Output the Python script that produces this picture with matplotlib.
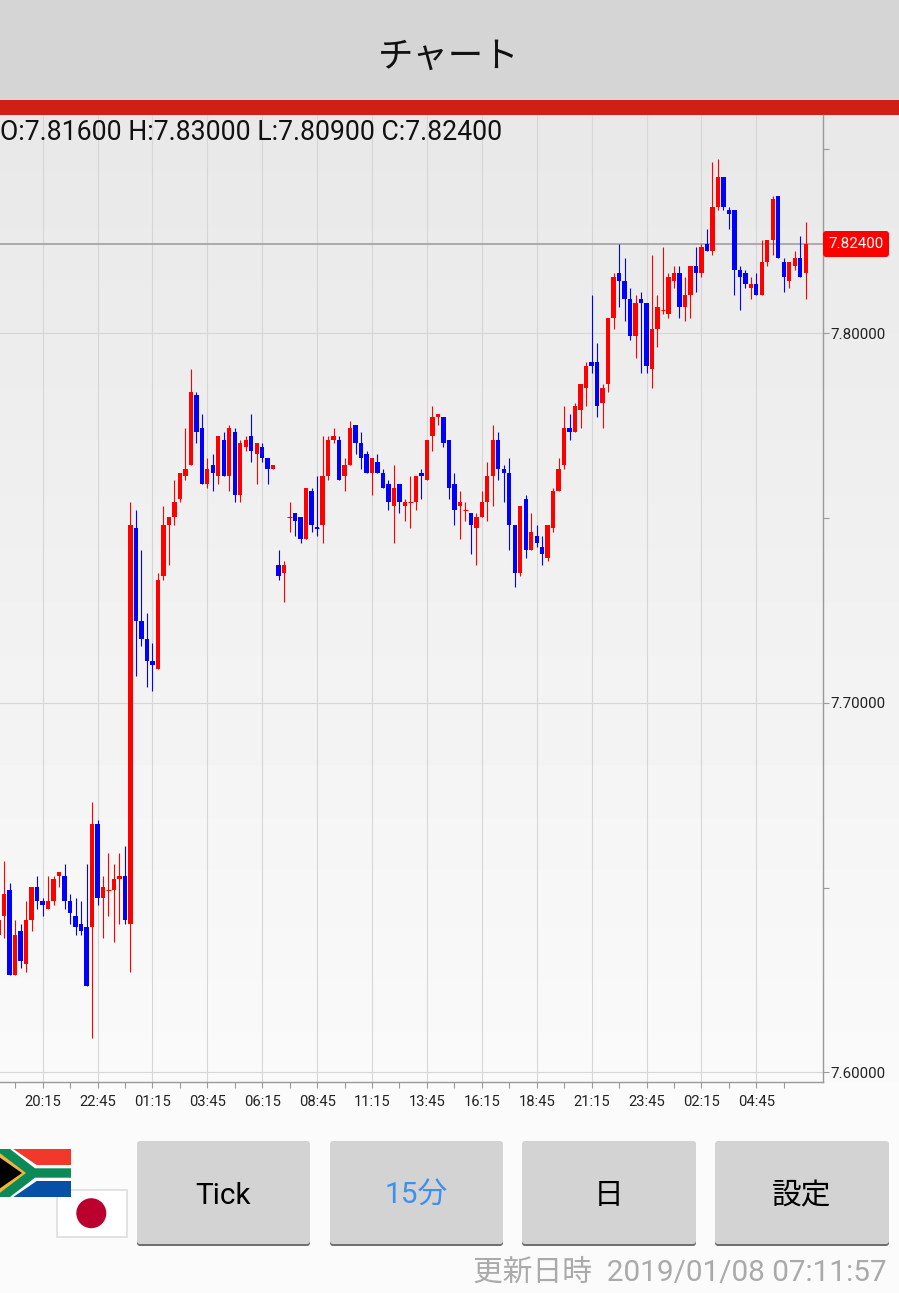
import numpy as np
import matplotlib
matplotlib.use('Agg')
import matplotlib.pyplot as plt
from matplotlib.patches import FancyBboxPatch, Rectangle, Polygon, Circle

W, H = 899, 1293
FONT = ['Roboto', 'Noto Sans CJK JP', 'DejaVu Sans']
plt.rcParams['font.family'] = FONT

# candles, price in 1/1000 units, one row = 10 candles (15 minutes each)
first_index = -8
opens = [7637, 7642, 7649, 7626, 7638, 7629, 7641, 7650, 7646, 7644,
         7646, 7653, 7653, 7646, 7642, 7640, 7639, 7639, 7667, 7647,
         7649, 7649, 7652, 7653, 7640, 7747, 7722, 7717, 7711, 7709,
         7734, 7748, 7750, 7755, 7761, 7764, 7783, 7774, 7759, 7764,
         7761, 7771, 7761, 7773, 7756, 7769, 7772, 7767, 7769, 7766,
         7763, 7737, 7735, 7750, 7751, 7750, 7744, 7757, 7747.2, 7748,
         7761, 7771, 7771, 7761, 7764, 7775, 7770, 7767, 7762, 7765,
         7762, 7759, 7753, 7759, 7753, 7754, 7754, 7762, 7760, 7772,
         7777, 7777, 7771, 7759, 7753, 7752, 7751, 7747, 7750, 7754,
         7761, 7771, 7763, 7762, 7748, 7735, 7755, 7741, 7745, 7742,
         7739, 7747, 7757, 7764, 7774, 7773, 7779, 7785, 7792, 7792,
         7781, 7786, 7804, 7816, 7814, 7809, 7799, 7809, 7808, 7790,
         7801, 7806, 7805, 7814, 7816, 7807, 7810, 7818, 7816, 7824,
         7822, 7834, 7842, 7833, 7833, 7817, 7816, 7812, 7813, 7810,
         7819, 7825, 7837, 7819, 7814, 7818, 7820, 7816]
highs = [7641, 7657, 7651, 7641, 7640, 7646, 7650, 7653, 7647, 7653,
         7653, 7654, 7656, 7648, 7647, 7646, 7656, 7673, 7668, 7653,
         7659, 7656, 7659, 7661, 7754, 7752, 7741, 7724, 7716, 7735,
         7753, 7750, 7760, 7762, 7774, 7790, 7784, 7778, 7766, 7767,
         7772, 7773, 7775, 7774, 7771, 7772, 7778, 7770, 7770, 7766,
         7764, 7741, 7738, 7754, 7751, 7750, 7758, 7758, 7761, 7772,
         7772, 7774, 7772, 7766, 7776, 7775, 7773, 7768, 7766, 7767,
         7763, 7760, 7764, 7759, 7755, 7761, 7761, 7763, 7771, 7780,
         7778, 7777, 7771, 7762, 7757, 7754, 7751, 7751, 7757, 7765,
         7775, 7773, 7764, 7766, 7748, 7753, 7756, 7751, 7748, 7745,
         7748, 7758, 7766, 7780, 7778, 7781, 7786, 7792, 7810, 7797,
         7786, 7804, 7816, 7824, 7820, 7812, 7810, 7811, 7808, 7821,
         7810, 7823, 7816, 7818, 7818, 7815, 7818, 7823, 7824, 7828,
         7846, 7847, 7842, 7834, 7833, 7818, 7817, 7815, 7816, 7825,
         7825, 7837, 7837, 7820, 7819, 7822, 7826, 7830]
lows = [7637, 7636, 7626, 7626, 7628, 7627, 7638, 7644, 7642, 7644,
        7645, 7650, 7644, 7640, 7637, 7637, 7623, 7609, 7645, 7636,
        7642, 7635, 7640, 7640, 7627, 7707, 7715, 7704, 7703, 7709,
        7733, 7737, 7748, 7754, 7760, 7764, 7770, 7759, 7758, 7757,
        7759, 7761, 7757, 7754, 7754, 7768, 7765, 7759, 7765, 7759,
        7763, 7733, 7727, 7746, 7745, 7743, 7744, 7746, 7745, 7743,
        7760, 7770, 7760, 7757, 7764, 7767, 7763, 7762, 7756, 7762,
        7758, 7752, 7743, 7751, 7749, 7747, 7752, 7755, 7760, 7768,
        7775, 7769, 7755, 7748, 7744, 7749, 7740, 7737, 7750, 7749,
        7753, 7760, 7754, 7741, 7731, 7734, 7739, 7741, 7742, 7737,
        7738, 7746, 7757, 7763, 7771, 7773, 7774, 7780, 7789, 7777,
        7774, 7784, 7801, 7807, 7803, 7798, 7793, 7789, 7789, 7785,
        7796, 7805, 7804, 7812, 7804, 7803, 7804, 7811, 7815, 7822,
        7821, 7833, 7833, 7828, 7810, 7806, 7812, 7809, 7810, 7810,
        7818, 7821, 7820, 7811, 7812, 7817, 7815, 7809]
closes = [7641, 7648, 7626, 7637, 7630, 7641, 7650, 7646, 7645, 7646,
          7652, 7654, 7646, 7643, 7639, 7638, 7623, 7667, 7647, 7650,
          7649, 7652, 7653, 7641, 7748, 7722, 7717, 7711, 7710, 7733,
          7748, 7750, 7754, 7762, 7763, 7784, 7773, 7759, 7763, 7762,
          7772, 7761, 7774, 7756, 7770, 7771, 7768, 7770, 7766, 7763,
          7764, 7734, 7737, 7750, 7749, 7744, 7758, 7748, 7746.8, 7761,
          7771, 7772, 7760, 7764, 7774, 7770, 7766, 7762, 7766, 7762,
          7758, 7754, 7758, 7754, 7754, 7754, 7761, 7761, 7771, 7777,
          7778, 7770, 7758, 7752, 7754, 7752, 7748, 7750, 7754, 7761,
          7771, 7763, 7762, 7748, 7735, 7753, 7741, 7746, 7743, 7740,
          7748, 7757, 7763, 7774, 7773, 7780, 7786, 7791, 7791, 7780,
          7785, 7804, 7815, 7814, 7809, 7799, 7808, 7808, 7791, 7801,
          7807, 7806, 7815, 7816, 7807, 7810, 7818, 7816, 7823, 7822,
          7834, 7842, 7834, 7832, 7817, 7815, 7813, 7813, 7810, 7819,
          7825, 7836, 7820, 7815, 7819, 7820, 7815, 7824]

time_labels = ['20:15', '22:45', '01:15', '03:45', '06:15', '08:45', '11:15',
               '13:45', '16:15', '18:45', '21:15', '23:45', '02:15', '04:45']
price_ticks = [7.6, 7.7, 7.8]
price_minor = [7.65, 7.75, 7.85]
last_price = 7.824
ohlc_text = 'O:7.81600 H:7.83000 L:7.80900 C:7.82400'
button_labels = ['Tick', '15分', '日', '設定']
button_colors = ['#000000', '#3f90ee', '#000000', '#000000']
update_text = '更新日時  2019/01/08 07:11:57'

fig = plt.figure(figsize=(W / 100, H / 100), dpi=100, facecolor='#fbfbfb')


def px_axes(zorder):
    a = fig.add_axes([0, 0, 1, 1], zorder=zorder)
    a.set_xlim(0, W)
    a.set_ylim(H, 0)
    a.axis('off')
    return a


# background
bg = px_axes(0)
grad = np.linspace(0.91, 0.98, 256).reshape(-1, 1)
bg.imshow(grad, extent=(0, W, 1082, 115), aspect='auto', cmap='gray', vmin=0, vmax=1)
bg.set_xlim(0, W)
bg.set_ylim(H, 0)
bg.add_patch(Rectangle((0, 0), W, 100, fc='#d5d5d5', ec='none'))
bg.add_patch(Rectangle((0, 100), W, 15, fc='#d01f14', ec='none'))

# chart
px_per_candle = 5.49
x_zero = 42.6
y_scale = 3695.0  # pixels per 1.0 of price
candle_shift = 0.0003  # the app draws candles about a pixel above its grid
ax = fig.add_axes([0, (H - 1082) / H, 822.5 / W, (1082 - 115) / H], zorder=1)
ax.patch.set_alpha(0)
ax.set_xlim(-x_zero / px_per_candle, (822.5 - x_zero) / px_per_candle)
ax.set_ylim(7.6 - 9.5 / y_scale, 7.6 + (1072.5 - 115) / y_scale)

o = np.array(opens) / 1000 + candle_shift
h = np.array(highs) / 1000 + candle_shift
l = np.array(lows) / 1000 + candle_shift
c = np.array(closes) / 1000 + candle_shift
idx = np.arange(first_index, first_index + len(o))
colors = np.where(c >= o, '#ff0000', '#0000ff')

ax.set_xticks(np.arange(0, 140, 10))
ax.set_xticklabels(time_labels)
ax.set_xticks(np.arange(-5, 140, 10), minor=True)
ax.set_yticks(price_ticks)
ax.set_yticklabels(['%.5f' % p for p in price_ticks])
ax.set_yticks(price_minor, minor=True)
ax.yaxis.tick_right()
ax.grid(True, which='major', color='#d6d6d6', lw=0.8, zorder=0)
ax.set_axisbelow(True)
for s in ['left', 'top']:
    ax.spines[s].set_visible(False)
for s in ['right', 'bottom']:
    ax.spines[s].set_color('#9a9a9a')
    ax.spines[s].set_linewidth(1.0)
ax.tick_params(which='both', length=4.6, width=0.8, color='#9a9a9a')
ax.tick_params(axis='x', labelsize=10.6, labelcolor='#222222', pad=4.8)
ax.tick_params(axis='y', labelsize=10.9, labelcolor='#222222', pad=1.0)

ax.axhline(last_price + candle_shift, color='#999999', lw=1.1, zorder=1.5)
ax.vlines(idx, l, h, colors=colors, lw=0.8, zorder=2)
ax.bar(idx, np.abs(c - o), bottom=np.minimum(o, c), width=0.8, color=colors, lw=0, zorder=3)
flat = np.abs(c - o) < 0.0006
ax.hlines((o[flat] + c[flat]) / 2, idx[flat] - 0.4, idx[flat] + 0.4, colors=colors[flat], lw=0.75, zorder=3)

# everything around the chart
ui = px_axes(2)
ui.text(449, 56.5, 'チャート', fontsize=25.5, ha='center', va='center', color='#111111',
        family=['Noto Sans CJK JP', 'DejaVu Sans'])
ui.text(0, 132.5, ohlc_text, fontsize=19.15, ha='left', va='center', color='#111111')

ui.add_patch(FancyBboxPatch((823, 231), 66, 26, boxstyle='round,pad=0,rounding_size=3', fc='#ff0000', ec='none'))
ui.text(856, 244.5, '%.5f' % last_price, fontsize=10.9, color='white', ha='center', va='center')

# south african flag
fx0, fx1, fy0, fy1, fm = -1, 71, 1149, 1197, 1173
ui.add_patch(Rectangle((fx0, fy0), fx1 - fx0, fm - fy0, fc='#f2382a', ec='none'))
ui.add_patch(Rectangle((fx0, fm), fx1 - fx0, fy1 - fm, fc='#0650a5', ec='none'))
ui.add_patch(Polygon([(fx0, fy0), (13.3, fy0), (36.7, fm - 8), (fx1, fm - 8), (fx1, fm + 8), (36.7, fm + 8),
                      (13.3, fy1), (fx0, fy1)], fc='white', ec='none'))
ui.add_patch(Polygon([(fx0, fy0), (10, fy0), (35, fm - 4.7), (fx1, fm - 4.7), (fx1, fm + 4.7), (35, fm + 4.7),
                      (10, fy1), (fx0, fy1)], fc='#0b8a58', ec='none'))
ui.add_patch(Polygon([(fx0, fm - 20.5), (26, fm), (fx0, fm + 20.5)], fc='#f0b53a', ec='none'))
ui.add_patch(Polygon([(fx0, fm - 16), (22, fm), (fx0, fm + 16)], fc='black', ec='none'))

# japanese flag
ui.add_patch(Rectangle((56.5, 1190), 70, 46.5, fc='white', ec='#dedede', lw=1.2, zorder=0.5))
ui.add_patch(Circle((91.3, 1213.2), 15, fc='#bc002d', ec='none'))

# buttons
button_x = [(137, 310), (330, 503), (522, 696), (715, 889)]
for (x0, x1), lab, col in zip(button_x, button_labels, button_colors):
    ui.add_patch(FancyBboxPatch((x0, 1143), x1 - x0, 103, boxstyle='round,pad=0,rounding_size=3',
                                fc='#6f6f6f', ec='none'))
    ui.add_patch(FancyBboxPatch((x0, 1141), x1 - x0, 103, boxstyle='round,pad=0,rounding_size=3',
                                fc='#d3d3d3', ec='none'))
    ui.text((x0 + x1) / 2, 1196, lab, fontsize=21.4, color=col, ha='center', va='center')

ui.text(887, 1273, update_text, fontsize=21.45, color='#aaaaaa', ha='right', va='center')

fig.savefig('out.png', dpi=100, facecolor=fig.get_facecolor())
